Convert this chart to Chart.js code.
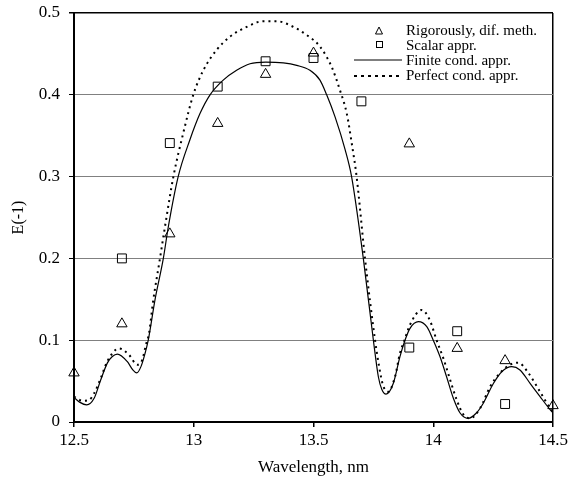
<!DOCTYPE html>
<html>
<head>
<meta charset="utf-8">
<script src="https://cdn.jsdelivr.net/npm/chart.js@4.4.0/dist/chart.umd.min.js"></script>
<style>
  html, body { margin: 0; padding: 0; background: #fff; }
  #wrap { width: 582px; height: 492px; }
</style>
</head>
<body>
<div id="wrap"><canvas id="chart" width="582" height="492"></canvas></div>
<script>
// axis ticks
const xTicks = [12.5, 13, 13.5, 14, 14.5];
const yTicks = [0, 0.1, 0.2, 0.3, 0.4, 0.5];

// measured points
const rigX = [12.5, 12.7, 12.9, 13.1, 13.3, 13.5, 13.9, 14.1, 14.3, 14.5];
const rigY = [0.06, 0.12, 0.23, 0.365, 0.425, 0.451, 0.34, 0.09, 0.075, 0.02];
const scalarX = [12.7, 12.9, 13.1, 13.3, 13.5, 13.7, 13.9, 14.1, 14.3];
const scalarY = [0.2, 0.341, 0.41, 0.441, 0.445, 0.392, 0.091, 0.111, 0.022];

// finite cond. curve (solid)
const finiteX = [12.5, 12.525, 12.553, 12.584, 12.611, 12.639, 12.66, 12.681, 12.722, 12.745, 12.762,
  12.78, 12.795, 12.81, 12.838, 12.873, 12.894, 12.935, 12.984, 13.026, 13.068, 13.123, 13.179, 13.235,
  13.3, 13.374, 13.43, 13.485, 13.527, 13.555, 13.59, 13.632, 13.659, 13.708, 13.75, 13.771, 13.785,
  13.803, 13.833, 13.861, 13.882, 13.903, 13.938, 13.973, 14.0, 14.028, 14.056, 14.084, 14.112, 14.146,
  14.18, 14.209, 14.251, 14.286, 14.328, 14.362, 14.405, 14.446, 14.488, 14.5];
const finiteY = [0.030, 0.024, 0.021, 0.029, 0.051, 0.072, 0.080, 0.083, 0.074, 0.064, 0.060,
  0.068, 0.082, 0.100, 0.149, 0.200, 0.239, 0.300, 0.345, 0.377, 0.400, 0.418, 0.430, 0.438,
  0.440, 0.439, 0.436, 0.430, 0.418, 0.400, 0.373, 0.333, 0.300, 0.200, 0.100, 0.055, 0.040,
  0.034, 0.047, 0.080, 0.100, 0.1145, 0.1226, 0.1165, 0.100, 0.080, 0.055, 0.029, 0.011, 0.0045,
  0.011, 0.023, 0.047, 0.0615, 0.0676, 0.0636, 0.047, 0.031, 0.015, 0.011];

// perfect cond. curve (dotted)
const perfectX = [12.5, 12.535, 12.563, 12.584, 12.611, 12.639, 12.688, 12.73, 12.764, 12.785, 12.8,
  12.813, 12.831, 12.859, 12.88, 12.915, 12.956, 12.998, 13.04, 13.096, 13.151, 13.221, 13.29, 13.346,
  13.402, 13.472, 13.527, 13.576, 13.61, 13.639, 13.66, 13.68, 13.715, 13.757, 13.775, 13.79, 13.812,
  13.84, 13.861, 13.88, 13.903, 13.952, 13.985, 14.014, 14.042, 14.07, 14.098, 14.126, 14.154, 14.196,
  14.237, 14.279, 14.32, 14.355, 14.397, 14.446, 14.488, 14.5];
const perfectY = [0.031, 0.026, 0.027, 0.035, 0.053, 0.074, 0.090, 0.082, 0.070, 0.076, 0.094,
  0.108, 0.149, 0.200, 0.239, 0.300, 0.353, 0.400, 0.430, 0.455, 0.471, 0.483, 0.490, 0.490,
  0.485, 0.473, 0.459, 0.434, 0.406, 0.377, 0.340, 0.300, 0.200, 0.100, 0.066, 0.045, 0.037,
  0.055, 0.084, 0.100, 0.119, 0.137, 0.125, 0.100, 0.078, 0.052, 0.027, 0.009, 0.0045, 0.017,
  0.043, 0.060, 0.070, 0.0725, 0.060, 0.037, 0.017, 0.013];

const labels = ["Rigorously, dif. meth.", "Scalar appr.", "Finite cond. appr.", "Perfect cond. appr."];

const pts = (xs, ys) => xs.map((x, i) => ({ x: x, y: ys[i] }));
const serif = "'Liberation Serif', 'Times New Roman', serif";

// legend drawn inside the plot, top right
const boxLegend = {
  id: "boxLegend",
  afterDraw(chart) {
    const ctx = chart.ctx;
    ctx.save();
    ctx.fillStyle = "#000";
    ctx.strokeStyle = "#000";
    ctx.font = "15px " + serif;
    ctx.textBaseline = "alphabetic";
    const tx = 406;
    const base = [35, 50, 65, 80];
    labels.forEach((t, i) => ctx.fillText(t, tx, base[i]));
    ctx.lineWidth = 1;
    // triangle
    ctx.beginPath();
    ctx.moveTo(379, 27);
    ctx.lineTo(382.5, 34);
    ctx.lineTo(375.5, 34);
    ctx.closePath();
    ctx.stroke();
    // square
    ctx.strokeRect(376.5, 41.5, 6, 6);
    // solid line
    ctx.lineWidth = 1.2;
    ctx.beginPath();
    ctx.moveTo(354, 60);
    ctx.lineTo(402, 60);
    ctx.stroke();
    // dotted line
    ctx.lineWidth = 2;
    ctx.setLineDash([3, 4]);
    ctx.beginPath();
    ctx.moveTo(354, 76);
    ctx.lineTo(402, 76);
    ctx.stroke();
    ctx.restore();
  }
};

new Chart(document.getElementById("chart"), {
  type: "scatter",
  data: {
    datasets: [
      {
        label: labels[0],
        data: pts(rigX, rigY),
        pointStyle: "triangle",
        pointRadius: 6,
        pointBorderColor: "#000",
        pointBackgroundColor: "rgba(0,0,0,0)",
        pointBorderWidth: 1,
        showLine: false,
        clip: false,
      },
      {
        label: labels[1],
        data: pts(scalarX, scalarY),
        pointStyle: "rect",
        pointRadius: 6.3,
        pointBorderColor: "#000",
        pointBackgroundColor: "rgba(0,0,0,0)",
        pointBorderWidth: 1,
        showLine: false,
        clip: false,
      },
      {
        label: labels[2],
        data: pts(finiteX, finiteY),
        showLine: true,
        borderColor: "#000",
        borderWidth: 1.2,
        pointRadius: 0,
        cubicInterpolationMode: "monotone",
      },
      {
        label: labels[3],
        data: pts(perfectX, perfectY),
        showLine: true,
        borderColor: "#000",
        borderWidth: 2,
        borderDash: [2, 4],
        pointRadius: 0,
        cubicInterpolationMode: "monotone",
      },
    ],
  },
  options: {
    responsive: false,
    animation: false,
    layout: { padding: { top: 13, right: 29, bottom: 10, left: 0 } },
    plugins: {
      legend: { display: false },
      tooltip: { enabled: false },
    },
    scales: {
      x: {
        type: "linear",
        min: 12.5,
        max: 14.5,
        afterBuildTicks: (s) => { s.ticks = xTicks.map((v) => ({ value: v })); },
        afterFit: (s) => { s.height = 60; s.paddingLeft = 0; s.paddingRight = 0; },
        border: { color: "#000", width: 2 },
        grid: {
          color: (c) => (c.tick && c.tick.value === 14.5 ? "#000" : "rgba(0,0,0,0)"),
          lineWidth: 1.5,
          tickColor: "#000",
          tickLength: 5,
          drawOnChartArea: true,
        },
        ticks: {
          color: "#000",
          font: { family: serif, size: 17 },
          padding: 3,
          maxRotation: 0,
          callback: (v) => String(v),
        },
        title: {
          display: true,
          text: "Wavelength, nm",
          color: "#000",
          font: { family: serif, size: 17 },
        },
      },
      y: {
        min: 0,
        max: 0.5,
        afterBuildTicks: (s) => { s.ticks = yTicks.map((v) => ({ value: v })); },
        afterFit: (s) => { s.width = 74; s.paddingTop = 0; s.paddingBottom = 0; },
        border: { color: "#000", width: 2 },
        grid: {
          color: (c) => (c.tick && c.tick.value === 0.5 ? "#000" : "#808080"),
          lineWidth: (c) => (c.tick && c.tick.value === 0.5 ? 1.5 : 1),
          tickColor: "#000",
          tickLength: 5,
        },
        ticks: {
          color: "#000",
          font: { family: serif, size: 17 },
          padding: 9,
          callback: (v) => String(+v.toFixed(1)),
        },
        title: {
          display: true,
          text: "E(-1)",
          color: "#000",
          font: { family: serif, size: 16 },
          padding: { top: 9, bottom: 4 },
        },
      },
    },
  },
  plugins: [boxLegend],
});
</script>
</body>
</html>
